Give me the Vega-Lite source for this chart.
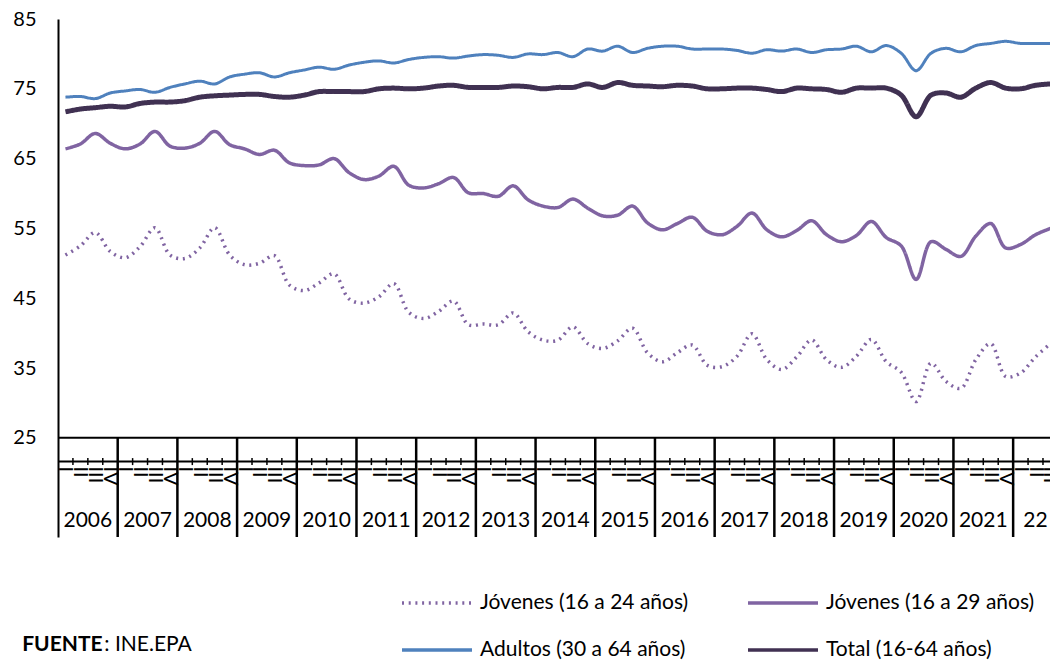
{
  "$schema": "https://vega.github.io/schema/vega-lite/v6.json",
  "width": 992,
  "height": 518,
  "autosize": "none",
  "padding": {"left": 58, "top": 19, "right": 0, "bottom": 123},
  "background": "white",
  "config": {"view": {"stroke": null}, "font": "Lato"},
  "datasets": {
    "serie": [
      {"t":0,"trim":"I","Jóvenes (16 a 24 años)":51.2,"Jóvenes (16 a 29 años)":66.4,"Adultos (30 a 64 años)":73.8,"Total (16-64 años)":71.7},
      {"t":1,"trim":"II","Jóvenes (16 a 24 años)":52.5,"Jóvenes (16 a 29 años)":67.1,"Adultos (30 a 64 años)":73.9,"Total (16-64 años)":72.1},
      {"t":2,"trim":"III","Jóvenes (16 a 24 años)":54.4,"Jóvenes (16 a 29 años)":68.6,"Adultos (30 a 64 años)":73.6,"Total (16-64 años)":72.3},
      {"t":3,"trim":"IV","Jóvenes (16 a 24 años)":51.7,"Jóvenes (16 a 29 años)":67.2,"Adultos (30 a 64 años)":74.4,"Total (16-64 años)":72.5},
      {"t":4,"trim":"I","Jóvenes (16 a 24 años)":50.8,"Jóvenes (16 a 29 años)":66.4,"Adultos (30 a 64 años)":74.7,"Total (16-64 años)":72.4},
      {"t":5,"trim":"II","Jóvenes (16 a 24 años)":52.4,"Jóvenes (16 a 29 años)":67.1,"Adultos (30 a 64 años)":74.9,"Total (16-64 años)":72.9},
      {"t":6,"trim":"III","Jóvenes (16 a 24 años)":55.1,"Jóvenes (16 a 29 años)":68.9,"Adultos (30 a 64 años)":74.5,"Total (16-64 años)":73.1},
      {"t":7,"trim":"IV","Jóvenes (16 a 24 años)":51.2,"Jóvenes (16 a 29 años)":66.8,"Adultos (30 a 64 años)":75.2,"Total (16-64 años)":73.1},
      {"t":8,"trim":"I","Jóvenes (16 a 24 años)":50.7,"Jóvenes (16 a 29 años)":66.5,"Adultos (30 a 64 años)":75.7,"Total (16-64 años)":73.3},
      {"t":9,"trim":"II","Jóvenes (16 a 24 años)":52.2,"Jóvenes (16 a 29 años)":67.2,"Adultos (30 a 64 años)":76.1,"Total (16-64 años)":73.8},
      {"t":10,"trim":"III","Jóvenes (16 a 24 años)":55.1,"Jóvenes (16 a 29 años)":68.9,"Adultos (30 a 64 años)":75.7,"Total (16-64 años)":74.0},
      {"t":11,"trim":"IV","Jóvenes (16 a 24 años)":51.2,"Jóvenes (16 a 29 años)":67.0,"Adultos (30 a 64 años)":76.7,"Total (16-64 años)":74.1},
      {"t":12,"trim":"I","Jóvenes (16 a 24 años)":49.8,"Jóvenes (16 a 29 años)":66.4,"Adultos (30 a 64 años)":77.1,"Total (16-64 años)":74.2},
      {"t":13,"trim":"II","Jóvenes (16 a 24 años)":50.0,"Jóvenes (16 a 29 años)":65.6,"Adultos (30 a 64 años)":77.3,"Total (16-64 años)":74.2},
      {"t":14,"trim":"III","Jóvenes (16 a 24 años)":51.1,"Jóvenes (16 a 29 años)":66.2,"Adultos (30 a 64 años)":76.7,"Total (16-64 años)":73.9},
      {"t":15,"trim":"IV","Jóvenes (16 a 24 años)":46.9,"Jóvenes (16 a 29 años)":64.4,"Adultos (30 a 64 años)":77.3,"Total (16-64 años)":73.8},
      {"t":16,"trim":"I","Jóvenes (16 a 24 años)":46.1,"Jóvenes (16 a 29 años)":64.0,"Adultos (30 a 64 años)":77.7,"Total (16-64 años)":74.1},
      {"t":17,"trim":"II","Jóvenes (16 a 24 años)":47.2,"Jóvenes (16 a 29 años)":64.1,"Adultos (30 a 64 años)":78.1,"Total (16-64 años)":74.6},
      {"t":18,"trim":"III","Jóvenes (16 a 24 años)":48.5,"Jóvenes (16 a 29 años)":65.0,"Adultos (30 a 64 años)":77.8,"Total (16-64 años)":74.6},
      {"t":19,"trim":"IV","Jóvenes (16 a 24 años)":44.9,"Jóvenes (16 a 29 años)":63.0,"Adultos (30 a 64 años)":78.4,"Total (16-64 años)":74.6},
      {"t":20,"trim":"I","Jóvenes (16 a 24 años)":44.3,"Jóvenes (16 a 29 años)":62.0,"Adultos (30 a 64 años)":78.8,"Total (16-64 años)":74.6},
      {"t":21,"trim":"II","Jóvenes (16 a 24 años)":45.2,"Jóvenes (16 a 29 años)":62.5,"Adultos (30 a 64 años)":79.0,"Total (16-64 años)":75.0},
      {"t":22,"trim":"III","Jóvenes (16 a 24 años)":47.1,"Jóvenes (16 a 29 años)":63.9,"Adultos (30 a 64 años)":78.7,"Total (16-64 años)":75.1},
      {"t":23,"trim":"IV","Jóvenes (16 a 24 años)":43.0,"Jóvenes (16 a 29 años)":61.2,"Adultos (30 a 64 años)":79.2,"Total (16-64 años)":75.0},
      {"t":24,"trim":"I","Jóvenes (16 a 24 años)":42.1,"Jóvenes (16 a 29 años)":60.8,"Adultos (30 a 64 años)":79.5,"Total (16-64 años)":75.1},
      {"t":25,"trim":"II","Jóvenes (16 a 24 años)":43.1,"Jóvenes (16 a 29 años)":61.4,"Adultos (30 a 64 años)":79.6,"Total (16-64 años)":75.4},
      {"t":26,"trim":"III","Jóvenes (16 a 24 años)":44.6,"Jóvenes (16 a 29 años)":62.3,"Adultos (30 a 64 años)":79.4,"Total (16-64 años)":75.5},
      {"t":27,"trim":"IV","Jóvenes (16 a 24 años)":41.2,"Jóvenes (16 a 29 años)":60.1,"Adultos (30 a 64 años)":79.7,"Total (16-64 años)":75.2},
      {"t":28,"trim":"I","Jóvenes (16 a 24 años)":41.3,"Jóvenes (16 a 29 años)":60.0,"Adultos (30 a 64 años)":79.9,"Total (16-64 años)":75.2},
      {"t":29,"trim":"II","Jóvenes (16 a 24 años)":41.2,"Jóvenes (16 a 29 años)":59.6,"Adultos (30 a 64 años)":79.8,"Total (16-64 años)":75.2},
      {"t":30,"trim":"III","Jóvenes (16 a 24 años)":42.9,"Jóvenes (16 a 29 años)":61.1,"Adultos (30 a 64 años)":79.5,"Total (16-64 años)":75.4},
      {"t":31,"trim":"IV","Jóvenes (16 a 24 años)":40.2,"Jóvenes (16 a 29 años)":59.1,"Adultos (30 a 64 años)":80.0,"Total (16-64 años)":75.3},
      {"t":32,"trim":"I","Jóvenes (16 a 24 años)":39.0,"Jóvenes (16 a 29 años)":58.2,"Adultos (30 a 64 años)":79.9,"Total (16-64 años)":75.0},
      {"t":33,"trim":"II","Jóvenes (16 a 24 años)":39.0,"Jóvenes (16 a 29 años)":58.0,"Adultos (30 a 64 años)":80.2,"Total (16-64 años)":75.2},
      {"t":34,"trim":"III","Jóvenes (16 a 24 años)":40.9,"Jóvenes (16 a 29 años)":59.2,"Adultos (30 a 64 años)":79.6,"Total (16-64 años)":75.2},
      {"t":35,"trim":"IV","Jóvenes (16 a 24 años)":38.5,"Jóvenes (16 a 29 años)":57.9,"Adultos (30 a 64 años)":80.7,"Total (16-64 años)":75.7},
      {"t":36,"trim":"I","Jóvenes (16 a 24 años)":37.8,"Jóvenes (16 a 29 años)":56.8,"Adultos (30 a 64 años)":80.4,"Total (16-64 años)":75.2},
      {"t":37,"trim":"II","Jóvenes (16 a 24 años)":38.9,"Jóvenes (16 a 29 años)":56.9,"Adultos (30 a 64 años)":81.1,"Total (16-64 años)":75.9},
      {"t":38,"trim":"III","Jóvenes (16 a 24 años)":40.7,"Jóvenes (16 a 29 años)":58.2,"Adultos (30 a 64 años)":80.2,"Total (16-64 años)":75.5},
      {"t":39,"trim":"IV","Jóvenes (16 a 24 años)":37.2,"Jóvenes (16 a 29 años)":55.8,"Adultos (30 a 64 años)":80.8,"Total (16-64 años)":75.4},
      {"t":40,"trim":"I","Jóvenes (16 a 24 años)":35.9,"Jóvenes (16 a 29 años)":54.8,"Adultos (30 a 64 años)":81.1,"Total (16-64 años)":75.3},
      {"t":41,"trim":"II","Jóvenes (16 a 24 años)":37.2,"Jóvenes (16 a 29 años)":55.7,"Adultos (30 a 64 años)":81.1,"Total (16-64 años)":75.5},
      {"t":42,"trim":"III","Jóvenes (16 a 24 años)":38.3,"Jóvenes (16 a 29 años)":56.6,"Adultos (30 a 64 años)":80.7,"Total (16-64 años)":75.4},
      {"t":43,"trim":"IV","Jóvenes (16 a 24 años)":35.4,"Jóvenes (16 a 29 años)":54.6,"Adultos (30 a 64 años)":80.7,"Total (16-64 años)":75.0},
      {"t":44,"trim":"I","Jóvenes (16 a 24 años)":35.2,"Jóvenes (16 a 29 años)":54.1,"Adultos (30 a 64 años)":80.7,"Total (16-64 años)":75.0},
      {"t":45,"trim":"II","Jóvenes (16 a 24 años)":36.7,"Jóvenes (16 a 29 años)":55.3,"Adultos (30 a 64 años)":80.5,"Total (16-64 años)":75.1},
      {"t":46,"trim":"III","Jóvenes (16 a 24 años)":39.9,"Jóvenes (16 a 29 años)":57.2,"Adultos (30 a 64 años)":80.1,"Total (16-64 años)":75.1},
      {"t":47,"trim":"IV","Jóvenes (16 a 24 años)":36.2,"Jóvenes (16 a 29 años)":54.8,"Adultos (30 a 64 años)":80.6,"Total (16-64 años)":74.9},
      {"t":48,"trim":"I","Jóvenes (16 a 24 años)":34.8,"Jóvenes (16 a 29 años)":53.8,"Adultos (30 a 64 años)":80.4,"Total (16-64 años)":74.6},
      {"t":49,"trim":"II","Jóvenes (16 a 24 años)":36.6,"Jóvenes (16 a 29 años)":54.7,"Adultos (30 a 64 años)":80.7,"Total (16-64 años)":75.1},
      {"t":50,"trim":"III","Jóvenes (16 a 24 años)":39.0,"Jóvenes (16 a 29 años)":56.1,"Adultos (30 a 64 años)":80.2,"Total (16-64 años)":75.0},
      {"t":51,"trim":"IV","Jóvenes (16 a 24 años)":36.2,"Jóvenes (16 a 29 años)":54.1,"Adultos (30 a 64 años)":80.6,"Total (16-64 años)":74.9},
      {"t":52,"trim":"I","Jóvenes (16 a 24 años)":35.1,"Jóvenes (16 a 29 años)":53.1,"Adultos (30 a 64 años)":80.7,"Total (16-64 años)":74.5},
      {"t":53,"trim":"II","Jóvenes (16 a 24 años)":36.7,"Jóvenes (16 a 29 años)":54.0,"Adultos (30 a 64 años)":81.1,"Total (16-64 años)":75.1},
      {"t":54,"trim":"III","Jóvenes (16 a 24 años)":39.1,"Jóvenes (16 a 29 años)":56.0,"Adultos (30 a 64 años)":80.3,"Total (16-64 años)":75.1},
      {"t":55,"trim":"IV","Jóvenes (16 a 24 años)":35.9,"Jóvenes (16 a 29 años)":53.7,"Adultos (30 a 64 años)":81.2,"Total (16-64 años)":75.1},
      {"t":56,"trim":"I","Jóvenes (16 a 24 años)":34.4,"Jóvenes (16 a 29 años)":52.5,"Adultos (30 a 64 años)":80.1,"Total (16-64 años)":74.1},
      {"t":57,"trim":"II","Jóvenes (16 a 24 años)":30.2,"Jóvenes (16 a 29 años)":47.7,"Adultos (30 a 64 años)":77.6,"Total (16-64 años)":71.0},
      {"t":58,"trim":"III","Jóvenes (16 a 24 años)":35.7,"Jóvenes (16 a 29 años)":53.1,"Adultos (30 a 64 años)":80.1,"Total (16-64 años)":74.1},
      {"t":59,"trim":"IV","Jóvenes (16 a 24 años)":33.1,"Jóvenes (16 a 29 años)":52.0,"Adultos (30 a 64 años)":80.8,"Total (16-64 años)":74.4},
      {"t":60,"trim":"I","Jóvenes (16 a 24 años)":32.1,"Jóvenes (16 a 29 años)":51.0,"Adultos (30 a 64 años)":80.3,"Total (16-64 años)":73.8},
      {"t":61,"trim":"II","Jóvenes (16 a 24 años)":36.2,"Jóvenes (16 a 29 años)":53.9,"Adultos (30 a 64 años)":81.2,"Total (16-64 años)":75.1},
      {"t":62,"trim":"III","Jóvenes (16 a 24 años)":38.5,"Jóvenes (16 a 29 años)":55.7,"Adultos (30 a 64 años)":81.5,"Total (16-64 años)":75.9},
      {"t":63,"trim":"IV","Jóvenes (16 a 24 años)":33.8,"Jóvenes (16 a 29 años)":52.2,"Adultos (30 a 64 años)":81.8,"Total (16-64 años)":75.1},
      {"t":64,"trim":"I","Jóvenes (16 a 24 años)":34.3,"Jóvenes (16 a 29 años)":52.7,"Adultos (30 a 64 años)":81.5,"Total (16-64 años)":75.0},
      {"t":65,"trim":"II","Jóvenes (16 a 24 años)":36.6,"Jóvenes (16 a 29 años)":54.1,"Adultos (30 a 64 años)":81.5,"Total (16-64 años)":75.5},
      {"t":66,"trim":"III","Jóvenes (16 a 24 años)":38.5,"Jóvenes (16 a 29 años)":55.0,"Adultos (30 a 64 años)":81.5,"Total (16-64 años)":75.7}
    ],
    "anios": [
      {"anio":2006,"label":"2006","tc":1.5,"tfin":3.5},
      {"anio":2007,"label":"2007","tc":5.5,"tfin":7.5},
      {"anio":2008,"label":"2008","tc":9.5,"tfin":11.5},
      {"anio":2009,"label":"2009","tc":13.5,"tfin":15.5},
      {"anio":2010,"label":"2010","tc":17.5,"tfin":19.5},
      {"anio":2011,"label":"2011","tc":21.5,"tfin":23.5},
      {"anio":2012,"label":"2012","tc":25.5,"tfin":27.5},
      {"anio":2013,"label":"2013","tc":29.5,"tfin":31.5},
      {"anio":2014,"label":"2014","tc":33.5,"tfin":35.5},
      {"anio":2015,"label":"2015","tc":37.5,"tfin":39.5},
      {"anio":2016,"label":"2016","tc":41.5,"tfin":43.5},
      {"anio":2017,"label":"2017","tc":45.5,"tfin":47.5},
      {"anio":2018,"label":"2018","tc":49.5,"tfin":51.5},
      {"anio":2019,"label":"2019","tc":53.5,"tfin":55.5},
      {"anio":2020,"label":"2020","tc":57.5,"tfin":59.5},
      {"anio":2021,"label":"2021","tc":61.5,"tfin":63.5},
      {"anio":2022,"label":"22","tc":65.0,"tfin":67.5}
    ]
  },
  "layer": [
    {
      "data": {"name": "serie"},
      "transform": [{"fold": ["Jóvenes (16 a 24 años)", "Jóvenes (16 a 29 años)", "Adultos (30 a 64 años)", "Total (16-64 años)"], "as": ["serie", "valor"]}],
      "mark": {"type": "line", "interpolate": "catmull-rom", "strokeJoin": "round", "clip": true},
      "encoding": {
        "x": {"field": "t", "type": "quantitative", "axis": null, "scale": {"domain": [-0.5, 65.97], "nice": false, "zero": false}},
        "y": {"field": "valor", "type": "quantitative", "scale": {"domain": [10.8, 85], "nice": false, "zero": false}, "axis": {"values": [25, 35, 45, 55, 65, 75, 85], "grid": false, "ticks": false, "domainColor": "black", "domainWidth": 2, "labelFontSize": 20, "labelFont": "Lato", "labelColor": "black", "labelPadding": 22, "title": null}},
        "color": {"field": "serie", "type": "nominal",
          "scale": {"domain": ["Jóvenes (16 a 24 años)", "Jóvenes (16 a 29 años)", "Adultos (30 a 64 años)", "Total (16-64 años)"], "range": ["#8064A2", "#8064A2", "#4F81BD", "#403152"]},
          "legend": {"orient": "none", "legendX": 342, "legendY": 547, "columns": 2, "direction": "horizontal", "title": null, "symbolType": "stroke", "symbolSize": 4900, "symbolStrokeWidth": 3.5, "labelFontSize": 21, "labelFont": "Lato", "labelColor": "black", "labelOffset": 6, "columnPadding": 52, "rowPadding": -30, "padding": 0, "labelLimit": 400}},
        "strokeDash": {"field": "serie", "type": "nominal",
          "scale": {"domain": ["Jóvenes (16 a 24 años)", "Jóvenes (16 a 29 años)", "Adultos (30 a 64 años)", "Total (16-64 años)"], "range": [[2, 4.7], [1, 0], [1, 0], [1, 0]]}},
        "strokeWidth": {"condition": [{"test": "datum.serie == 'Total (16-64 años)'", "value": 5}, {"test": "datum.serie == 'Adultos (30 a 64 años)'", "value": 3}], "value": 3.5}
      }
    },
    {
      "data": {"name": "anios"},
      "mark": {"type": "rule", "color": "black", "strokeWidth": 2.5, "clip": true},
      "encoding": {
        "x": {"field": "tfin", "type": "quantitative"},
        "y": {"datum": 25},
        "y2": {"datum": 10.8}
      }
    },
    {
      "data": {"name": "anios"},
      "mark": {"type": "text", "align": "center", "baseline": "middle", "fontSize": 21, "color": "black", "font": "Lato"},
      "encoding": {
        "x": {"field": "tc", "type": "quantitative"},
        "y": {"datum": 13.1},
        "text": {"field": "label"}
      }
    },
    {
      "data": {"name": "serie"},
      "mark": {"type": "text", "angle": 90, "align": "left", "baseline": "middle", "fontSize": 20, "color": "black", "font": "Lato", "clip": true},
      "encoding": {
        "x": {"field": "t", "type": "quantitative"},
        "y": {"datum": 20.9},
        "text": {"field": "trim"}
      }
    },
    {
      "data": {"name": "serie"},
      "transform": [{"filter": "datum.trim != 'IV'"}],
      "mark": {"type": "rule", "color": "black", "strokeWidth": 1.5, "xOffset": 7.46},
      "encoding": {
        "x": {"field": "t", "type": "quantitative"},
        "y": {"datum": 22.1},
        "y2": {"datum": 21.1}
      }
    },
    {
      "data": {"values": [{"k": 1}]},
      "mark": {"type": "rule", "color": "black", "strokeWidth": 2},
      "encoding": {"y": {"datum": 25}}
    },
    {
      "data": {"values": [{"k": 1}]},
      "mark": {"type": "rule", "color": "black", "strokeWidth": 2},
      "encoding": {"y": {"datum": 21.6}}
    },
    {
      "data": {"values": [{"txt": "FUENTE"}]},
      "mark": {"type": "text", "align": "left", "baseline": "middle", "fontSize": 21, "fontWeight": "bold", "color": "black", "font": "Lato"},
      "encoding": {
        "x": {"datum": -2.9},
        "y": {"datum": -4.66},
        "text": {"field": "txt"}
      }
    },
    {
      "data": {"values": [{"txt": ": INE.EPA"}]},
      "mark": {"type": "text", "align": "left", "baseline": "middle", "fontSize": 21, "color": "black", "font": "Lato"},
      "encoding": {
        "x": {"datum": 2.6},
        "y": {"datum": -4.66},
        "text": {"field": "txt"}
      }
    }
  ]
}
